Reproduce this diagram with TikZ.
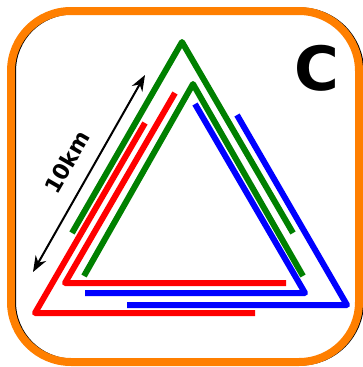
\documentclass[tikz,border=0pt]{standalone}
\usepackage{fontspec}
\setsansfont{DejaVu Sans}
\usetikzlibrary{arrows.meta}
\definecolor{frame-orange}{HTML}{FF7F00}
\definecolor{leg-green}{HTML}{008000}
\definecolor{leg-red}{HTML}{FF0000}
\definecolor{leg-blue}{HTML}{0000FF}

\begin{document}
\begin{tikzpicture}[x=1pt, y=-1pt,
      leg/.style={line width=6pt, line join=round, line cap=butt},
      every node/.style={font=\sffamily\bfseries}]
    \useasboundingbox (0,0) rectangle (363,367);
    % frame with its thin shadow
    \draw[black, line width=7pt, rounded corners=60pt]
          (12.5,11) rectangle (360.5,362);
    \draw[frame-orange, line width=8pt, rounded corners=60pt]
          (11,11) rectangle (359,362);
    % corner vertices
    \coordinate (gO) at (182,42);
    \coordinate (gI) at (193,84);
    \coordinate (rO) at (35,313);
    \coordinate (rI) at (65,283);
    \coordinate (bO) at (347,305);
    \coordinate (bI) at (305,293);
    % green pair
    \draw[leg, leg-green] (72,233) -- (gO) -- (293,233);
    \draw[leg, leg-green] (84,276) -- (gI) -- (303,276);
    % red pair
    \draw[leg, leg-red] (145,123) -- (rO) -- (255,313);
    \draw[leg, leg-red] (175,93) -- (rI) -- (286,283);
    % blue pair
    \draw[leg, leg-blue] (237,115) -- (bO) -- (127,305);
    \draw[leg, leg-blue] (195,104) -- (bI) -- (85,293);
    % scale arrow
    \coordinate (low) at (33,272);
    \coordinate (high) at (145,75);
    \draw[{Stealth[length=16pt, width=12pt]}-{Stealth[length=16pt, width=12pt]},
          line width=2pt] (low) -- (high);
    \node[rotate=60, font=\sffamily\bfseries\fontsize{22}{26}\selectfont]
          (dist) at (67,162) {10km};
    \node[font=\sffamily\bfseries\fontsize{61}{70}\selectfont]
          (tag) at (317,68) {C};
  \end{tikzpicture}
\end{document}
